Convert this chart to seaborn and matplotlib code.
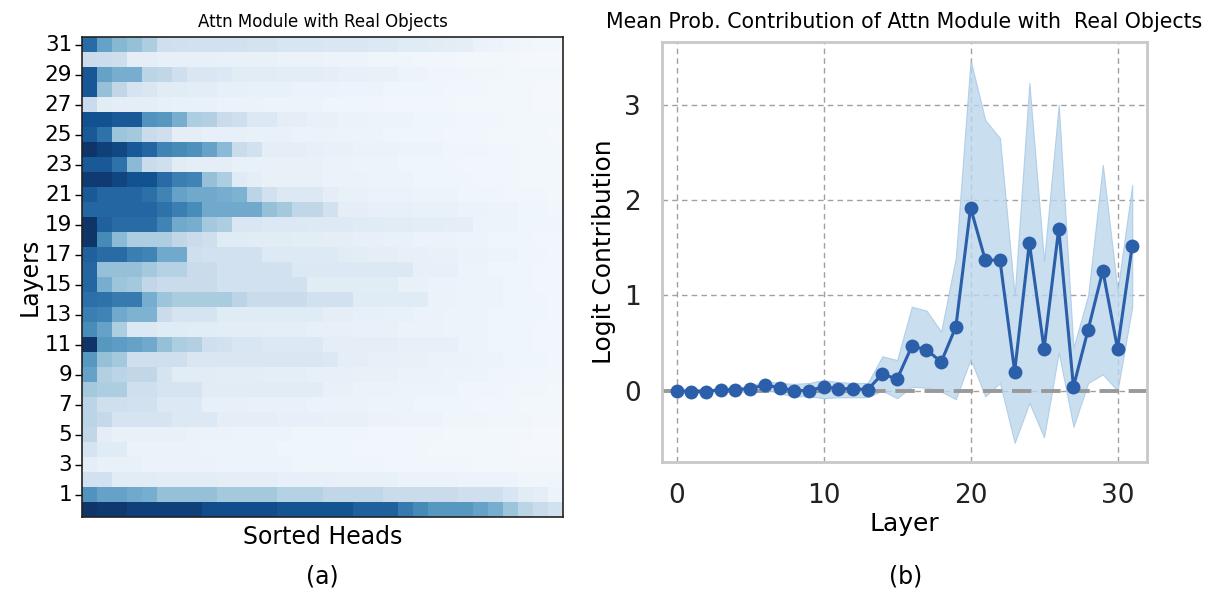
import numpy as np
import pandas as pd
import matplotlib
matplotlib.use("Agg")
import matplotlib.pyplot as plt
from matplotlib.colors import ListedColormap
import seaborn as sns

# ---------------- data ----------------
# Per-layer attention head scores, each row sorted from strongest to weakest head.
layer_ids = list(range(31, -1, -1))  # rows listed from the top layer down
sorted_head_scores = [
    # layer 31
    [0.78, 0.55, 0.46, 0.42, 0.35, 0.22, 0.21, 0.20, 0.20, 0.20, 0.20, 0.19, 0.19, 0.17, 0.17, 0.17, 0.16, 0.16, 0.16, 0.15, 0.15, 0.13, 0.13, 0.12, 0.11, 0.10, 0.07, 0.06, 0.05, 0.04, 0.03, 0.03],
    # layer 30
    [0.25, 0.24, 0.23, 0.10, 0.10, 0.09, 0.09, 0.09, 0.09, 0.08, 0.08, 0.08, 0.08, 0.07, 0.07, 0.07, 0.06, 0.06, 0.06, 0.05, 0.05, 0.05, 0.04, 0.04, 0.04, 0.03, 0.03, 0.03, 0.03, 0.02, 0.02, 0.02],
    # layer 29
    [0.86, 0.55, 0.50, 0.50, 0.30, 0.28, 0.22, 0.16, 0.16, 0.15, 0.12, 0.12, 0.12, 0.11, 0.11, 0.11, 0.10, 0.09, 0.09, 0.08, 0.08, 0.06, 0.06, 0.05, 0.05, 0.05, 0.04, 0.04, 0.03, 0.03, 0.03, 0.03],
    # layer 28
    [0.86, 0.42, 0.28, 0.18, 0.16, 0.12, 0.12, 0.11, 0.11, 0.09, 0.09, 0.08, 0.08, 0.08, 0.07, 0.07, 0.07, 0.06, 0.06, 0.06, 0.05, 0.05, 0.05, 0.05, 0.04, 0.04, 0.04, 0.03, 0.03, 0.03, 0.02, 0.02],
    # layer 27
    [0.25, 0.12, 0.10, 0.10, 0.10, 0.09, 0.08, 0.08, 0.08, 0.07, 0.07, 0.07, 0.06, 0.06, 0.06, 0.06, 0.05, 0.05, 0.05, 0.05, 0.04, 0.04, 0.04, 0.04, 0.04, 0.03, 0.03, 0.03, 0.03, 0.03, 0.02, 0.02],
    # layer 26
    [0.88, 0.88, 0.85, 0.85, 0.62, 0.60, 0.50, 0.35, 0.33, 0.25, 0.22, 0.15, 0.15, 0.10, 0.10, 0.08, 0.08, 0.07, 0.07, 0.06, 0.06, 0.06, 0.05, 0.05, 0.05, 0.04, 0.04, 0.04, 0.03, 0.03, 0.03, 0.03],
    # layer 25
    [0.85, 0.75, 0.40, 0.38, 0.25, 0.22, 0.10, 0.10, 0.09, 0.09, 0.09, 0.08, 0.08, 0.08, 0.07, 0.07, 0.07, 0.06, 0.06, 0.06, 0.05, 0.05, 0.05, 0.05, 0.04, 0.04, 0.04, 0.03, 0.03, 0.03, 0.03, 0.02],
    # layer 24
    [1.00, 0.95, 0.92, 0.85, 0.80, 0.68, 0.66, 0.63, 0.55, 0.45, 0.25, 0.20, 0.10, 0.10, 0.10, 0.09, 0.08, 0.08, 0.07, 0.07, 0.07, 0.06, 0.06, 0.06, 0.05, 0.05, 0.05, 0.04, 0.04, 0.03, 0.03, 0.03],
    # layer 23
    [0.85, 0.85, 0.75, 0.45, 0.25, 0.22, 0.12, 0.10, 0.10, 0.10, 0.08, 0.08, 0.08, 0.08, 0.08, 0.08, 0.07, 0.07, 0.06, 0.06, 0.06, 0.05, 0.05, 0.05, 0.05, 0.04, 0.04, 0.04, 0.04, 0.03, 0.03, 0.03],
    # layer 22
    [0.97, 0.97, 0.93, 0.88, 0.88, 0.78, 0.70, 0.68, 0.42, 0.35, 0.13, 0.10, 0.08, 0.08, 0.08, 0.08, 0.07, 0.07, 0.07, 0.06, 0.06, 0.06, 0.05, 0.05, 0.05, 0.05, 0.04, 0.04, 0.04, 0.03, 0.03, 0.03],
    # layer 21
    [0.85, 0.80, 0.80, 0.80, 0.76, 0.68, 0.55, 0.52, 0.52, 0.50, 0.48, 0.30, 0.20, 0.15, 0.15, 0.15, 0.10, 0.08, 0.08, 0.07, 0.07, 0.07, 0.06, 0.06, 0.06, 0.05, 0.05, 0.05, 0.04, 0.04, 0.04, 0.03],
    # layer 20
    [0.80, 0.80, 0.80, 0.80, 0.80, 0.75, 0.70, 0.65, 0.52, 0.52, 0.52, 0.52, 0.42, 0.38, 0.28, 0.28, 0.20, 0.10, 0.10, 0.09, 0.09, 0.09, 0.08, 0.08, 0.08, 0.07, 0.07, 0.06, 0.06, 0.05, 0.05, 0.04],
    # layer 19
    [1.00, 0.82, 0.78, 0.78, 0.78, 0.68, 0.52, 0.50, 0.38, 0.35, 0.16, 0.16, 0.15, 0.15, 0.15, 0.14, 0.14, 0.14, 0.13, 0.13, 0.12, 0.12, 0.11, 0.11, 0.10, 0.10, 0.06, 0.06, 0.06, 0.05, 0.05, 0.05],
    # layer 18
    [1.00, 0.66, 0.45, 0.35, 0.35, 0.35, 0.28, 0.25, 0.22, 0.13, 0.13, 0.12, 0.12, 0.12, 0.11, 0.11, 0.10, 0.10, 0.09, 0.09, 0.08, 0.08, 0.07, 0.07, 0.07, 0.06, 0.06, 0.05, 0.05, 0.05, 0.04, 0.04],
    # layer 17
    [0.82, 0.78, 0.78, 0.70, 0.68, 0.52, 0.52, 0.22, 0.20, 0.20, 0.20, 0.20, 0.14, 0.14, 0.14, 0.14, 0.14, 0.12, 0.11, 0.10, 0.10, 0.09, 0.09, 0.08, 0.08, 0.07, 0.07, 0.06, 0.06, 0.05, 0.05, 0.04],
    # layer 16
    [0.80, 0.42, 0.42, 0.42, 0.38, 0.32, 0.32, 0.25, 0.25, 0.20, 0.20, 0.20, 0.20, 0.20, 0.15, 0.15, 0.15, 0.15, 0.15, 0.15, 0.15, 0.15, 0.09, 0.09, 0.09, 0.06, 0.06, 0.05, 0.05, 0.05, 0.04, 0.04],
    # layer 15
    [0.80, 0.50, 0.40, 0.38, 0.28, 0.25, 0.25, 0.25, 0.25, 0.20, 0.20, 0.20, 0.20, 0.20, 0.20, 0.12, 0.12, 0.12, 0.12, 0.12, 0.12, 0.08, 0.08, 0.07, 0.07, 0.06, 0.06, 0.06, 0.05, 0.05, 0.04, 0.04],
    # layer 14
    [0.76, 0.75, 0.72, 0.72, 0.50, 0.40, 0.36, 0.36, 0.36, 0.36, 0.30, 0.25, 0.25, 0.25, 0.25, 0.20, 0.20, 0.20, 0.13, 0.13, 0.13, 0.13, 0.13, 0.07, 0.07, 0.06, 0.06, 0.06, 0.05, 0.05, 0.05, 0.04],
    # layer 13
    [0.70, 0.68, 0.52, 0.48, 0.48, 0.25, 0.18, 0.18, 0.18, 0.13, 0.13, 0.13, 0.13, 0.13, 0.13, 0.13, 0.10, 0.10, 0.09, 0.09, 0.08, 0.08, 0.07, 0.07, 0.06, 0.06, 0.06, 0.05, 0.05, 0.05, 0.05, 0.04],
    # layer 12
    [0.65, 0.55, 0.35, 0.15, 0.15, 0.13, 0.13, 0.12, 0.12, 0.11, 0.11, 0.11, 0.10, 0.10, 0.10, 0.09, 0.09, 0.09, 0.08, 0.08, 0.08, 0.07, 0.07, 0.07, 0.06, 0.06, 0.06, 0.05, 0.05, 0.05, 0.04, 0.04],
    # layer 11
    [1.00, 0.60, 0.58, 0.55, 0.52, 0.42, 0.35, 0.33, 0.22, 0.20, 0.17, 0.17, 0.15, 0.15, 0.15, 0.15, 0.10, 0.10, 0.10, 0.10, 0.10, 0.09, 0.09, 0.09, 0.09, 0.06, 0.06, 0.05, 0.05, 0.05, 0.04, 0.04],
    # layer 10
    [0.60, 0.42, 0.38, 0.22, 0.22, 0.22, 0.22, 0.16, 0.16, 0.16, 0.16, 0.16, 0.16, 0.16, 0.16, 0.16, 0.15, 0.10, 0.10, 0.09, 0.09, 0.08, 0.08, 0.07, 0.07, 0.07, 0.06, 0.06, 0.05, 0.05, 0.05, 0.04],
    # layer 9
    [0.55, 0.33, 0.30, 0.28, 0.28, 0.18, 0.12, 0.12, 0.12, 0.11, 0.11, 0.11, 0.10, 0.10, 0.10, 0.09, 0.09, 0.09, 0.08, 0.08, 0.08, 0.07, 0.07, 0.07, 0.06, 0.06, 0.06, 0.05, 0.05, 0.04, 0.04, 0.04],
    # layer 8
    [0.38, 0.35, 0.35, 0.22, 0.22, 0.18, 0.18, 0.18, 0.12, 0.12, 0.12, 0.12, 0.12, 0.12, 0.12, 0.12, 0.08, 0.08, 0.07, 0.07, 0.07, 0.06, 0.06, 0.06, 0.06, 0.05, 0.05, 0.05, 0.04, 0.04, 0.04, 0.03],
    # layer 7
    [0.30, 0.22, 0.22, 0.20, 0.20, 0.15, 0.15, 0.15, 0.09, 0.09, 0.09, 0.08, 0.08, 0.08, 0.08, 0.07, 0.07, 0.07, 0.07, 0.06, 0.06, 0.06, 0.05, 0.05, 0.05, 0.05, 0.04, 0.04, 0.04, 0.03, 0.03, 0.03],
    # layer 6
    [0.30, 0.27, 0.18, 0.18, 0.18, 0.18, 0.15, 0.15, 0.15, 0.10, 0.10, 0.10, 0.10, 0.09, 0.09, 0.09, 0.08, 0.08, 0.08, 0.07, 0.07, 0.06, 0.06, 0.06, 0.05, 0.05, 0.05, 0.04, 0.04, 0.04, 0.03, 0.03],
    # layer 5
    [0.28, 0.10, 0.08, 0.08, 0.08, 0.08, 0.08, 0.07, 0.07, 0.07, 0.06, 0.06, 0.06, 0.06, 0.05, 0.05, 0.05, 0.05, 0.05, 0.04, 0.04, 0.04, 0.04, 0.04, 0.03, 0.03, 0.03, 0.03, 0.03, 0.03, 0.02, 0.02],
    # layer 4
    [0.18, 0.13, 0.13, 0.07, 0.07, 0.07, 0.07, 0.07, 0.06, 0.06, 0.06, 0.06, 0.06, 0.05, 0.05, 0.05, 0.05, 0.05, 0.04, 0.04, 0.04, 0.04, 0.04, 0.03, 0.03, 0.03, 0.03, 0.03, 0.03, 0.02, 0.02, 0.02],
    # layer 3
    [0.10, 0.08, 0.08, 0.08, 0.07, 0.07, 0.07, 0.07, 0.07, 0.06, 0.06, 0.06, 0.06, 0.06, 0.05, 0.05, 0.05, 0.05, 0.05, 0.05, 0.04, 0.04, 0.04, 0.04, 0.04, 0.04, 0.03, 0.03, 0.03, 0.03, 0.03, 0.03],
    # layer 2
    [0.20, 0.20, 0.12, 0.12, 0.12, 0.11, 0.11, 0.11, 0.11, 0.10, 0.10, 0.10, 0.10, 0.09, 0.09, 0.09, 0.09, 0.08, 0.08, 0.08, 0.08, 0.07, 0.07, 0.07, 0.07, 0.06, 0.06, 0.06, 0.06, 0.05, 0.05, 0.05],
    # layer 1
    [0.62, 0.55, 0.55, 0.52, 0.50, 0.42, 0.42, 0.42, 0.42, 0.38, 0.38, 0.38, 0.38, 0.32, 0.32, 0.32, 0.28, 0.28, 0.28, 0.28, 0.25, 0.25, 0.25, 0.25, 0.25, 0.22, 0.22, 0.22, 0.17, 0.12, 0.10, 0.06],
    # layer 0
    [1.00, 0.98, 0.98, 0.95, 0.95, 0.95, 0.95, 0.95, 0.90, 0.90, 0.90, 0.90, 0.90, 0.87, 0.87, 0.87, 0.87, 0.87, 0.82, 0.82, 0.82, 0.72, 0.66, 0.60, 0.60, 0.60, 0.55, 0.50, 0.40, 0.30, 0.25, 0.20],
]

# Mean logit contribution per layer, with the spread band around it.
layers = list(range(32))
mean_contribution = [0.00, -0.01, -0.01, 0.01, 0.01, 0.02, 0.06, 0.03, 0.00, 0.00, 0.04, 0.02,
                     0.02, 0.01, 0.175, 0.12, 0.465, 0.43, 0.30, 0.67, 1.92, 1.37, 1.37, 0.20,
                     1.55, 0.44, 1.70, 0.04, 0.64, 1.26, 0.44, 1.52]
band_upper = [0.02, 0.01, 0.01, 0.03, 0.03, 0.05, 0.10, 0.08, 0.07, 0.08, 0.11, 0.09,
              0.08, 0.08, 0.36, 0.32, 0.88, 0.84, 0.62, 1.40, 3.47, 2.84, 2.65, 1.00,
              3.23, 1.36, 3.00, 0.45, 1.00, 2.37, 1.05, 2.16]
band_lower = [-0.02, -0.03, -0.03, -0.01, -0.01, -0.01, 0.02, -0.03, -0.06, -0.06, -0.08, -0.07,
              -0.07, -0.07, 0.00, -0.08, 0.04, 0.03, -0.01, -0.09, 0.33, -0.06, 0.08, -0.55,
              -0.13, -0.49, 0.40, -0.38, 0.08, 0.17, 0.00, 0.88]
x_ticks = [0, 10, 20, 30]
y_ticks = [0, 1, 2, 3]

# ---------------- figure ----------------
plt.rcParams["font.family"] = ["DejaVu Sans"]
fig = plt.figure(figsize=(12.2, 5.94), dpi=100)

# Slightly softened Blues colormap
base = plt.get_cmap("Blues")(np.linspace(0, 1, 256))
lum = (0.299 * base[:, 0] + 0.587 * base[:, 1] + 0.114 * base[:, 2])[:, None]
soft = base.copy()
soft[:, :3] = 0.85 * base[:, :3] + 0.15 * lum
soft_blues = ListedColormap(soft, name="soft_blues")

# Panel (a): heatmap of sorted head scores
ax_a = fig.add_axes([0.0672, 0.1296, 0.3943, 0.8081])
heat_df = pd.DataFrame(sorted_head_scores, index=layer_ids)
sns.heatmap(heat_df, ax=ax_a, cmap=soft_blues, vmin=0, vmax=1.02, cbar=False,
            xticklabels=False, yticklabels=2)
for s in ax_a.spines.values():
    s.set_visible(True)
    s.set_color("#222222")
    s.set_linewidth(1.2)
ax_a.tick_params(axis="y", labelsize=15.5, length=5, width=1, rotation=0, pad=2)
ax_a.tick_params(axis="x", bottom=False)
ax_a.set_xlabel("Sorted Heads", fontsize=17, labelpad=6)
ax_a.set_ylabel("Layers", fontsize=17, labelpad=2)
ax_a.set_title("Attn Module with Real Objects", fontsize=12, pad=7)
fig.text(0.264, 0.03, "(a)", ha="center", va="center", fontsize=17)

# Panel (b): mean contribution per layer
ax_b = fig.add_axes([0.5426, 0.2222, 0.3975, 0.7071])
line_color = "#2b5fa9"
ax_b.fill_between(layers, band_lower, band_upper, color="#bcd6ec", alpha=0.8,
                  edgecolor="#a6c8e5", linewidth=0.8, zorder=1)
ax_b.axhline(0, color="#999999", linestyle=(0, (5, 2.5)), linewidth=2.8, zorder=2)
sns.lineplot(x=layers, y=mean_contribution, ax=ax_b, color=line_color, linewidth=2.2,
             marker="o", markersize=10, markeredgewidth=0, zorder=3)
ax_b.set_xlim(-1.0, 32.0)
ax_b.set_ylim(-0.75, 3.66)
ax_b.set_xticks(x_ticks)
ax_b.set_yticks(y_ticks)
ax_b.grid(True, color="#a0a0a0", linestyle=(0, (4, 3)), linewidth=1.0)
ax_b.set_axisbelow(True)
for s in ax_b.spines.values():
    s.set_color("#c8c8c8")
    s.set_linewidth(2)
ax_b.tick_params(axis="both", length=0, labelsize=19, colors="#222222")
ax_b.tick_params(axis="x", pad=15)
ax_b.tick_params(axis="y", pad=15)
ax_b.set_xlabel("Layer", fontsize=18, labelpad=2)
ax_b.set_ylabel("Logit Contribution", fontsize=18, labelpad=6)
ax_b.set_title("Mean Prob. Contribution of Attn Module with  Real Objects", fontsize=14.8, pad=10)
fig.text(0.742, 0.03, "(b)", ha="center", va="center", fontsize=17)

fig.savefig("out.png", dpi=100)
